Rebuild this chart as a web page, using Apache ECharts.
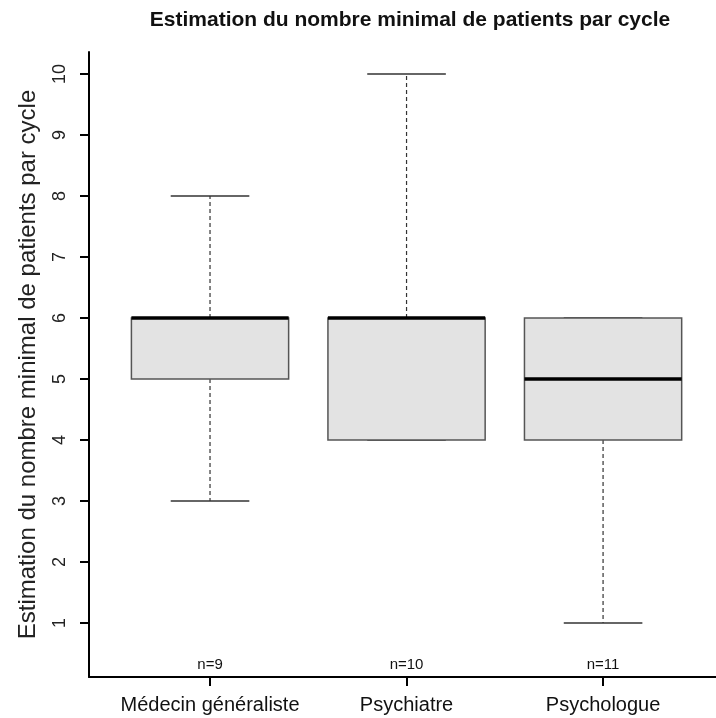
<!DOCTYPE html>
<html><head><meta charset="utf-8">
<script src="https://cdn.jsdelivr.net/npm/echarts@6/dist/echarts.min.js"></script>
<style>html,body{margin:0;padding:0;background:#fff}#c{width:716px;height:718px}</style>
</head><body><div id="c"></div>
<script>
const categories = ['Médecin généraliste', 'Psychiatre', 'Psychologue'];
const nLabels = ['n=9', 'n=10', 'n=11'];
const whiskerLow = [3, 4, 1];
const q1 = [5, 4, 4];
const median = [6, 6, 5];
const q3 = [6, 6, 6];
const whiskerHigh = [8, 10, 6];
const yTicks = [1, 2, 3, 4, 5, 6, 7, 8, 9, 10];
const xPositions = categories.map((c, i) => i + 1);

const boxData = categories.map((c, i) => [xPositions[i], whiskerLow[i], q1[i], median[i], q3[i], whiskerHigh[i]]);

const chart = echarts.init(document.getElementById('c'), null, {renderer: 'canvas'});
const font = 'Liberation Sans';
chart.setOption({
  animation: false,
  backgroundColor: '#fff',
  title: {
    text: 'Estimation du nombre minimal de patients par cycle',
    left: 405, top: 5, textAlign: 'center',
    textStyle: {fontFamily: font, fontWeight: 'bold', fontSize: 21, color: '#111'}
  },
  grid: {left: 89, width: 631, top: 52, bottom: 41, containLabel: false, outerBoundsMode: 'none'},
  xAxis: [
    {type: 'value', min: 0.3842, max: 3.595, position: 'bottom',
     axisLine: {show: true, onZero: false, lineStyle: {color: '#000', width: 2}},
     axisTick: {show: true, length: 9, customValues: xPositions, lineStyle: {color: '#000', width: 2}},
     axisLabel: {customValues: xPositions, formatter: v => categories[Math.round(v) - 1] || '',
       fontFamily: font, fontSize: 20, color: '#111', margin: 18},
     splitLine: {show: false}},
    {type: 'value', min: 0.3842, max: 3.595, position: 'bottom',
     axisLine: {show: false, onZero: false}, axisTick: {show: false},
     axisLabel: {inside: true, customValues: xPositions, formatter: v => nLabels[Math.round(v) - 1] || '',
       fontFamily: font, fontSize: 15, color: '#111', margin: 5},
     splitLine: {show: false}}
  ],
  yAxis: {type: 'value', min: 0.115, max: 10.36,
     name: 'Estimation du nombre minimal de patients par cycle',
     nameLocation: 'middle', nameGap: 49,
     nameTextStyle: {fontFamily: font, fontSize: 24, color: '#222'},
     axisLine: {show: true, lineStyle: {color: '#000', width: 2}},
     axisTick: {show: true, length: 9, customValues: yTicks, lineStyle: {color: '#000', width: 2}},
     axisLabel: {rotate: 90, customValues: yTicks, fontFamily: font, fontSize: 18, color: '#222', margin: 20},
     splitLine: {show: false}},
  series: [{
    type: 'custom',
    xAxisIndex: 0, yAxisIndex: 0,
    data: boxData,
    renderItem: function (params, api) {
      const x = api.value(0);
      const lo = api.value(1), a = api.value(2), m = api.value(3), b = api.value(4), hi = api.value(5);
      const half = api.size([0.8, 0])[0] / 2;
      const capHalf = half / 2;
      const c = api.coord([x, 0])[0];
      const yLo = api.coord([x, lo])[1], yA = api.coord([x, a])[1], yM = api.coord([x, m])[1];
      const yB = api.coord([x, b])[1], yHi = api.coord([x, hi])[1];
      const dash = {stroke: '#333', lineWidth: 1.2, lineDash: [4, 3]};
      const solid = {stroke: '#333', lineWidth: 1.4};
      return {type: 'group', children: [
        {type: 'line', shape: {x1: c, y1: yB, x2: c, y2: yHi}, style: dash},
        {type: 'line', shape: {x1: c, y1: yA, x2: c, y2: yLo}, style: dash},
        {type: 'line', shape: {x1: c - capHalf, y1: yHi, x2: c + capHalf, y2: yHi}, style: solid},
        {type: 'line', shape: {x1: c - capHalf, y1: yLo, x2: c + capHalf, y2: yLo}, style: solid},
        {type: 'rect', shape: {x: c - half, y: yB, width: 2 * half, height: yA - yB},
         style: {fill: '#e3e3e3', stroke: '#555', lineWidth: 1.5}},
        {type: 'line', shape: {x1: c - half, y1: yM, x2: c + half, y2: yM},
         style: {stroke: '#000', lineWidth: 3.5}}
      ]};
    }
  }]
});
</script></body></html>
